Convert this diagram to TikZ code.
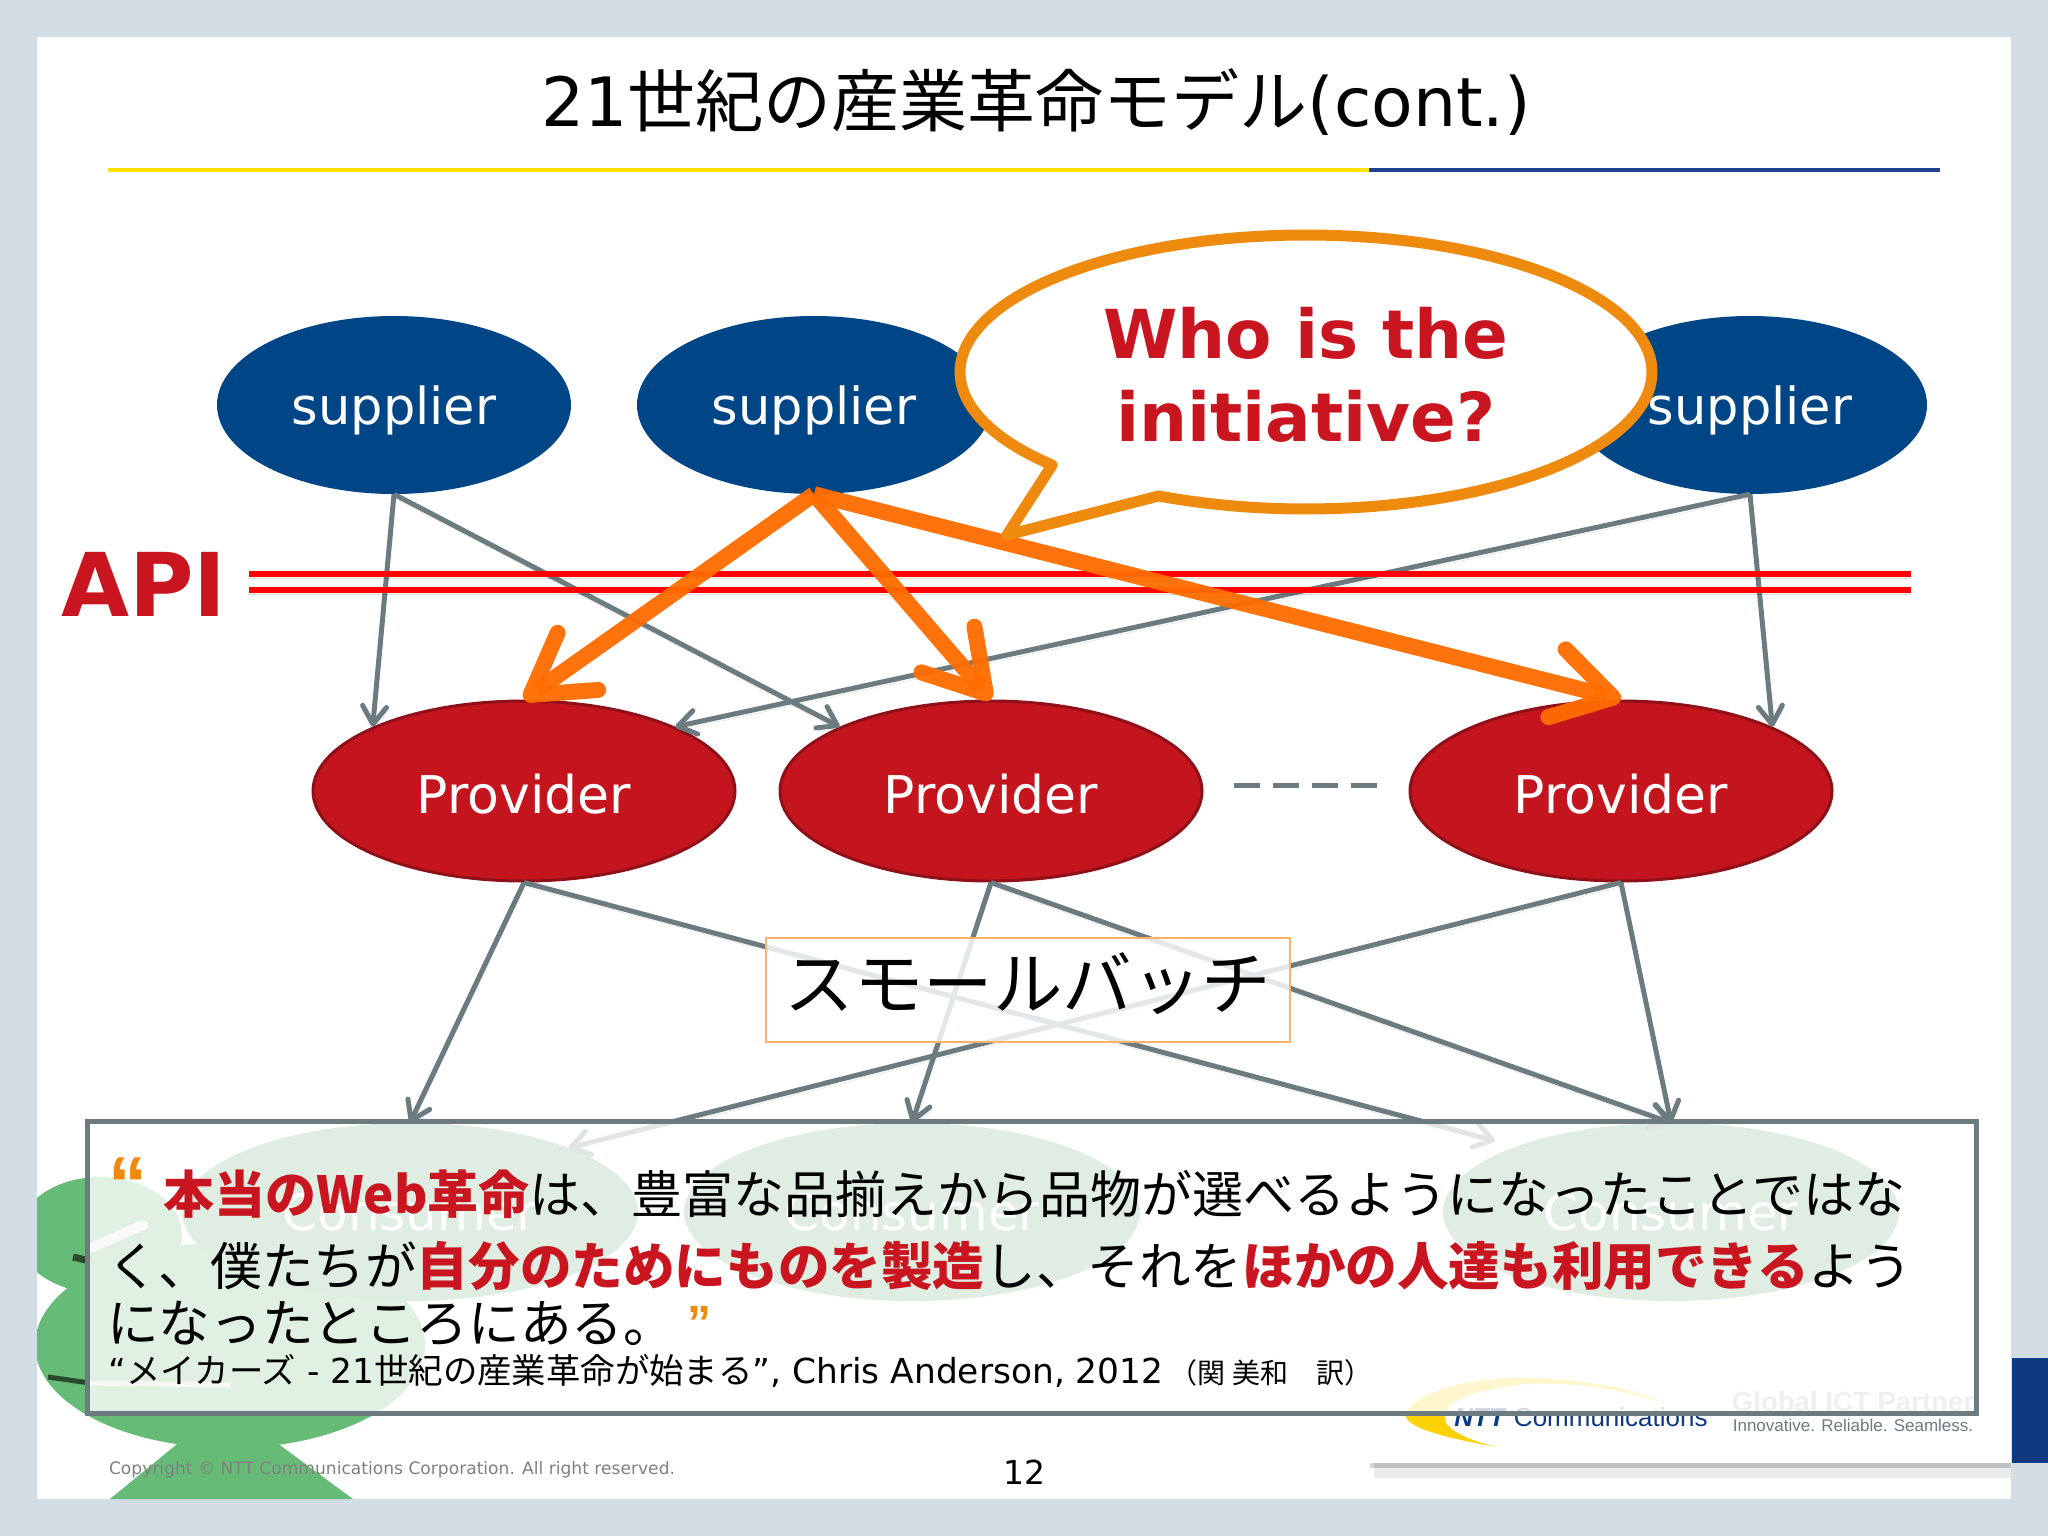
\documentclass[tikz,border=0pt]{standalone}
\usepackage{fontspec}
\setmainfont{DejaVu Sans}
\newfontfamily\cjk{Noto Sans CJK JP}
\newfontfamily\ntt{Liberation Sans}
\usetikzlibrary{shapes.geometric,arrows.meta}
\definecolor{bgblue}{HTML}{D2DDE5}
\definecolor{supblue}{HTML}{004585}
\definecolor{prored}{HTML}{C4141E}
\definecolor{proedge}{HTML}{8F1018}
\definecolor{frog}{HTML}{66BB77}
\definecolor{congreen}{HTML}{64A56E}
\definecolor{linegray}{HTML}{6B7B80}
\definecolor{arroworange}{HTML}{FF6C00}
\definecolor{talkorange}{HTML}{EE8A0D}
\definecolor{textred}{HTML}{C8151F}
\definecolor{nttblue}{HTML}{0F3A82}
\definecolor{ruleblue}{HTML}{1F3F8F}
\newcommand{\fsz}[1]{\fontsize{#1}{#1}\selectfont}
\tikzset{
  blob/.style={ellipse,inner sep=0pt,text=white},
  supplier/.style={blob,fill=supblue,minimum width=354pt,minimum height=178pt,text depth=0pt,font=\fsz{51}},
  provider/.style={blob,fill=prored,draw=proedge,line width=3pt,minimum width=422pt,minimum height=180pt,text height=45.5pt,text depth=0pt,font=\fsz{52}},
  consumer/.style={blob,fill=congreen,minimum width=456pt,minimum height=178pt,font=\fsz{50}},
  grayarrow/.style={draw=linegray,line width=5pt,-{Straight Barb[length=18pt,width=24pt,round]},
    preaction={draw=black,opacity=.15,transform canvas={shift={(1pt,-4pt)}}}},
  orangearrow/.style={draw=arroworange,line width=16pt,opacity=.95,-{Straight Barb[length=58pt,width=70pt,round]},
    preaction={draw=black,opacity=.15,transform canvas={shift={(2pt,-5pt)}}}},
  apiline/.style={draw=red,line width=6pt,
    preaction={draw=black,opacity=.15,transform canvas={shift={(0pt,-4pt)}}}},
  textline/.style={anchor=base west,inner sep=0pt,font=\cjk\fsz{51.6}},
  quotemark/.style={inner sep=0pt,text=talkorange},
}
\begin{document}
\begin{tikzpicture}[x=1pt,y=-1pt]
\useasboundingbox (0,0) rectangle (2048,1536);
\fill[bgblue] (0,0) rectangle (2048,1536);
\fill[white] (37,37) rectangle (2011,1499);

% frog
\begin{scope}
\clip (37,37) rectangle (2011,1499);
\fill[frog] (100,1235) ellipse [x radius=82,y radius=58];
\fill[frog] (230,1345) ellipse [x radius=195,y radius=103];
\fill[frog] (182,1440) -- (110,1499) -- (353,1499) -- (273,1440) -- cycle;
\draw[line width=5pt,black!60!frog] (48,1377) -- (90,1383);
\draw[line width=7pt,black!60!frog] (73,1257) -- (90,1261);
\draw[line width=10pt,line cap=round,white!80!gray] (93,1247) -- (143,1225);
\draw[line width=5pt,white!70!gray] (90,1383) -- (230,1385);
\end{scope}

% logo
\fill[black,opacity=.08] (1374,1463) rectangle (2011,1478);
\fill[black,opacity=.18] (1370,1463) rectangle (2011,1468);
\fill[nttblue] (2012,1358) rectangle (2048,1463);
\fill[yellow!70!orange] (1497,1447) .. controls (1440,1437) and (1395,1425) .. (1408,1410)
  .. controls (1425,1385) and (1490,1376) .. (1535,1378)
  .. controls (1590,1380) and (1640,1390) .. (1663,1403)
  .. controls (1620,1388) and (1570,1382) .. (1530,1384)
  .. controls (1480,1388) and (1440,1400) .. (1445,1420)
  .. controls (1448,1432) and (1475,1442) .. cycle;
\node[inner sep=0pt,text=nttblue,font=\ntt\fsz{26}] (nttname) at (1581,1417) {\textbf{\textit{NTT}} Communications};
\node[inner sep=0pt,text=gray!60,font=\ntt\bfseries\fsz{27.6}] (nttglobal) at (1853,1402) {Global ICT Partner};
\node[inner sep=0pt,text=linegray,font=\ntt\fsz{17}] (ntttag) at (1853,1425) {Innovative. Reliable. Seamless.};

\node[inner sep=0pt,text=gray,font=\fsz{17.1}] (copyright) at (392,1470) {Copyright © NTT Communications Corporation. All right reserved.};
\node[inner sep=0pt,font=\fsz{33}] (pagenum) at (1024,1472) {12};

% title
\node[inner sep=0pt,font=\fsz{68}] (title) at (1036,102) {21{\cjk 世紀の産業革命モデル}(cont.)};
\draw[line width=4pt,yellow!85!orange] (108,170) -- (1369,170);
\draw[line width=4pt,ruleblue] (1369,170) -- (1940,170);

% nodes
\foreach \x/\y/\n/\t in {410/1212/con1/Consumer, 912/1212/con2/Consumer, 1671/1212/con3/Consumer}
  \node[consumer] (\n) at (\x,\y) {\t};
\foreach \x/\y/\n/\t in {394/405/sup1/supplier, 814/405/sup2/supplier, 1750/405/sup3/supplier}
  \node[supplier] (\n) at (\x,\y) {\t};
\foreach \x/\y/\n/\t in {524/791/pro1/Provider, 991/791/pro2/Provider, 1621/791/pro3/Provider}
  \node[provider] (\n) at (\x,\y) {\t};

\foreach \s/\t in {sup1.south/pro1.157, sup1.south/pro2.157, sup3.south/pro1.23, sup3.south/pro3.23,
  pro1.south/con1.north, pro2.south/con2.north, pro2.south/con3.north,
  pro3.south/con3.north, pro3.south/con1.22}
  \draw[grayarrow] (\s) -- (\t);
\draw[grayarrow,shorten >=22pt] (pro1.south) -- (con3.157.7);

\coordinate (dash1) at (1234,785);
\coordinate (dash2) at (1381,785);
\draw[draw=linegray,line width=5pt,dash pattern=on 26pt off 13pt] (dash1) -- (dash2);

% API
\node[inner sep=0pt,text=textred,font=\bfseries\fsz{88}] (api) at (144,584) {API};
\coordinate (api1a) at (249,574);
\coordinate (api1b) at (1911,574);
\coordinate (api2a) at (249,590);
\coordinate (api2b) at (1911,590);
\draw[apiline] (api1a) -- (api1b);
\draw[apiline] (api2a) -- (api2b);

\foreach \s/\t in {sup2.south/pro1.north, sup2.south/pro2.north, sup2.south/pro3.north}
  \draw[orangearrow] (\s) -- (\t);

% callout
\coordinate (tailtip) at (1007,535);
\draw[draw=talkorange,line width=11pt,line join=round,fill=white]
  plot[domain=137.2:475.2,samples=160] ({1306+346*cos(\x)},{372+137*sin(\x)}) -- (tailtip) -- cycle;
\node[inner sep=0pt,text=textred,align=center,font=\bfseries\fontsize{67.5}{83}\selectfont] (who) at (1306,375) {Who is the\\initiative?};

% small batch
\node[draw=orange!60,line width=1.5pt,fill=white,fill opacity=.82,inner sep=0pt,
  minimum width=524pt,minimum height=104pt] (batch) at (1028,990) {};
\node[inner sep=0pt,font=\cjk\fsz{69.5}] (batchtext) at (1028,983.5) {スモールバッチ};

% quote
\node[draw=linegray,line width=5pt,fill=white,fill opacity=.8,draw opacity=1,minimum width=1889pt,minimum height=292pt,inner sep=0pt] (quotebox) at (1032,1267) {};
\node[quotemark,font=\ntt\bfseries\fsz{78}] (openq) at (128,1185) {“};
\node[textline,font=\cjk\fsz{51}] (line1) at (163,1213) {{\color{textred}\bfseries 本当のWeb革命}は、豊富な品揃えから品物が選べるようになったことではな};
\node[textline] (line2) at (107,1285) {く、僕たちが{\color{textred}\bfseries 自分のためにものを製造}し、それを{\color{textred}\bfseries ほかの人達も利用できる}よう};
\node[textline] (line3) at (107,1342) {になったところにある。};
\node[quotemark,font=\ntt\bfseries\fsz{48}] (closeq) at (699,1323) {”};
\node[anchor=base west,inner sep=0pt,font=\fsz{34.4}] (line4) at (108,1383) {“{\cjk メイカーズ} - 21{\cjk 世紀の産業革命が始まる}”, Chris Anderson, 2012{\cjk\fsz{28} （関 美和　訳）}};
\end{tikzpicture}
\end{document}
